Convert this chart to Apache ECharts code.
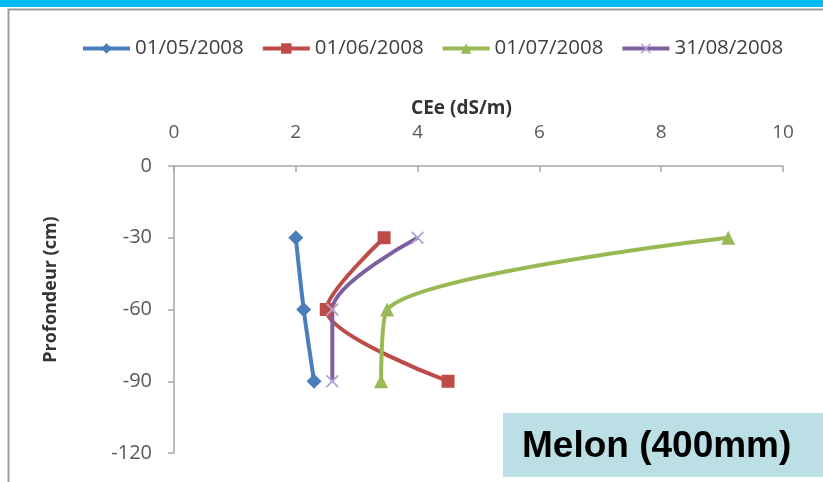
<!DOCTYPE html>
<html><head><meta charset="utf-8">
<script src="https://cdn.jsdelivr.net/npm/echarts@6/dist/echarts.min.js"></script>
<style>html,body{margin:0;padding:0;background:#fff}#c{width:823px;height:482px}</style>
</head><body><div id="c"></div>
<script>
const depths = [-30, -60, -90];
const seriesNames = ['01/05/2008', '01/06/2008', '01/07/2008', '31/08/2008'];
const ce_0105 = [2.0, 2.13, 2.3];
const ce_0106 = [3.45, 2.5, 4.5];
const ce_0107 = [9.1, 3.5, 3.4];
const ce_3108 = [4.0, 2.6, 2.6];
const xTicks = [0, 2, 4, 6, 8, 10];
const yTicks = [0, -30, -60, -90, -120];

const font = 'Open Sans';
const pair = (xs) => xs.map((v, i) => [v, depths[i]]);
const crossPath = 'path://M0,1 L1,0 L5,4 L9,0 L10,1 L6,5 L10,9 L9,10 L5,6 L1,10 L0,9 L4,5 Z';

const defs = [
  {data: ce_0105, color: '#4A7EBB', symbol: 'diamond', size: 15, symColor: '#4A7EBB'},
  {data: ce_0106, color: '#BE4B48', symbol: 'rect', size: 13, symColor: '#BE4B48'},
  {data: ce_0107, color: '#98B954', symbol: 'triangle', size: 14, symColor: '#98B954'},
  {data: ce_3108, color: '#7D60A0', symbol: crossPath, size: 13, symColor: '#B3A2CF'}
];

const chart = echarts.init(document.getElementById('c'));
chart.setOption({
  animation: false,
  backgroundColor: '#fff',
  grid: {left: 174, top: 166, width: 609, height: 287, containLabel: false},
  legend: {
    top: 33, left: 76, itemWidth: 47, itemHeight: 13, itemGap: 17,
    lineStyle: {width: 4},
    textStyle: {fontFamily: font, fontSize: 20.5, color: '#404040'},
    data: seriesNames
  },
  xAxis: {
    type: 'value', position: 'top', min: 0, max: 10, interval: 2,
    name: 'CEe (dS/m)', nameLocation: 'middle', nameGap: 48,
    nameTextStyle: {fontFamily: font, fontSize: 19, fontWeight: 'bold', color: '#333', padding: [0, 34, 0, 0]},
    axisLine: {show: true, lineStyle: {color: '#A6A6A6', width: 1.5}},
    axisTick: {show: true, inside: true, length: 6, lineStyle: {color: '#A6A6A6', width: 1.5}},
    axisLabel: {fontFamily: font, fontSize: 19, color: '#595959', margin: 24},
    splitLine: {show: false}
  },
  yAxis: {
    type: 'value', min: -120, max: 0, interval: 30,
    name: 'Profondeur (cm)', nameLocation: 'middle', nameGap: 114, nameRotate: 90,
    nameTextStyle: {fontFamily: font, fontSize: 18, fontWeight: 'bold', color: '#333', padding: [0, 0, 0, 40]},
    axisLine: {show: true, lineStyle: {color: '#A6A6A6', width: 1.5}},
    axisTick: {show: true, inside: false, length: 6, lineStyle: {color: '#A6A6A6', width: 1.5}},
    axisLabel: {fontFamily: font, fontSize: 20, color: '#595959', margin: 22},
    splitLine: {show: false}
  },
  series: defs.map((d, i) => ({
    name: seriesNames[i], type: 'line', data: pair(d.data), smooth: 0.3,
    symbol: d.symbol, symbolSize: d.size, showSymbol: true,
    lineStyle: {color: d.color, width: 4},
    itemStyle: {color: d.symColor},
    color: d.color
  })),
  graphic: [
    {type: 'rect', left: 0, top: 0, shape: {width: 823, height: 7}, style: {fill: '#00BBF9'}, silent: true},
    {type: 'rect', left: 6, top: 7, shape: {width: 830, height: 490}, style: {fill: 'none', stroke: '#9E9E9E', lineWidth: 2}, silent: true, z: -1},
    {type: 'rect', left: 503, top: 413, shape: {width: 320, height: 64}, style: {fill: '#BCDFE6'}, silent: true, z: 10},
    {type: 'text', left: 522, top: 428, style: {text: 'Melon (400mm)', font: 'bold 37px "Liberation Sans", Arial, sans-serif', fill: '#000'}, silent: true, z: 11}
  ]
});
</script></body></html>
